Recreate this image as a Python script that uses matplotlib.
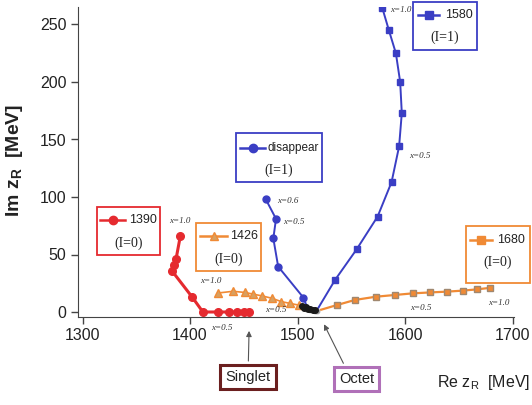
import matplotlib
matplotlib.use("Agg")
import matplotlib.pyplot as plt
from matplotlib.patches import Rectangle
from matplotlib.lines import Line2D

# pole trajectories, (Re z_R, Im z_R) in MeV
re_1390 = [1391, 1387, 1385, 1383, 1402, 1412, 1426, 1436, 1444, 1450, 1455]
im_1390 = [66, 46, 41, 36, 13, 0, 0, 0, 0, 0, 0]

re_1426 = [1426, 1440, 1451, 1459, 1467, 1476, 1485, 1493, 1501, 1508]
im_1426 = [16.5, 18, 17, 15.5, 14, 12, 9, 7.5, 6, 3.5]

re_dis = [1470.5, 1480, 1477.5, 1482, 1505.5, 1509]
im_dis = [98, 81, 64, 39.5, 12.5, 4]

re_1580 = [1579, 1585, 1591.5, 1595.5, 1597, 1594.5, 1587.5, 1574.5, 1555, 1535, 1519]
im_1580 = [264, 245, 225, 200, 173, 144, 113, 83, 54.5, 28, 3]

re_1680 = [1522, 1536.5, 1553.5, 1573, 1590.5, 1607, 1623, 1639, 1654, 1667, 1679]
im_1680 = [2, 6, 10.5, 13.3, 14.8, 16.2, 17, 17.7, 18.6, 19.7, 21]

# degenerate (SU(3) limit) region
re_cl = [1504, 1506, 1508, 1510, 1512, 1514, 1516]
im_cl = [5, 3.5, 4.5, 2.5, 3, 1.5, 2]

RED = "#e52a2f"
ORANGE = "#f08a35"
BLUE = "#3a3ec4"

W, H = 532, 405
fig = plt.figure(figsize=(W / 100, H / 100), dpi=100)
ax = fig.add_axes([78.2 / W, 1 - 316.6 / H, 435.4 / W, 309.35 / H])

ax.plot(re_1390, im_1390, "-o", color=RED, lw=2.2, ms=5.5, mec=RED)
ax.plot(re_1426, im_1426, "-^", color=ORANGE, lw=1.2, ms=5.5, mfc="#d8a060",
        mec=ORANGE, markevery=list(range(len(re_1426) - 1)))
ax.plot(re_dis, im_dis, "-o", color=BLUE, lw=1.4, ms=5, markevery=list(range(len(re_dis) - 1)))
ax.plot(re_1580, im_1580, "-s", color=BLUE, lw=1.4, ms=4.5, markevery=list(range(len(re_1580) - 1)))
ax.plot(re_1680, im_1680, "-s", color=ORANGE, lw=1.6, ms=5, mfc=ORANGE, mec="#a08870",
        markevery=list(range(1, len(re_1680))))
ax.scatter(re_cl, im_cl, s=16, color="#1a1a1a", zorder=5)
ax.scatter([r + 2 for r in re_cl], [i - 1 for i in im_cl], s=10, color="#aaaaaa", zorder=4)

ax.set_xlim(1296, 1701)
ax.set_ylim(-4, 265)
ax.set_xticks([1300, 1400, 1500, 1600, 1700])
ax.set_yticks([0, 50, 100, 150, 200, 250])
for s in ("top", "right"):
    ax.spines[s].set_visible(False)
for s in ("left", "bottom"):
    ax.spines[s].set_color("#444444")
ax.tick_params(direction="out", length=5, width=1, color="#444444",
               labelsize=11.5, labelcolor="#222222")
for lab in ax.get_xticklabels() + ax.get_yticklabels():
    lab.set_family("Liberation Sans")

# x = ... labels along the trajectories
small = dict(fontsize=6.5, family="Liberation Serif", style="italic", color="#333333",
             va="center", clip_on=False)
ax.text(1381, 79, "x=1.0", **small)
ax.text(1409, 27, "x=1.0", **small)
ax.text(1420, -14, "x=0.5", **small)
ax.text(1470, 1.7, "x=0.5", **small)
ax.text(1481, 96.5, "x=0.6", **small)
ax.text(1486.5, 78, "x=0.5", **small)
ax.text(1586, 263, "x=1.0", **small)
ax.text(1604, 135.5, "x=0.5", **small)
ax.text(1605, 3.5, "x=0.5", **small)
ax.text(1677, 7.8, "x=1.0", **small)


def fx(x):
    return x / W


def fy(y):
    return 1 - y / H


def legend_box(x0, y0, x1, y1, color, marker, mfc, label, iso, hx0, hx1, hy, lx, iy, lsize=9):
    fig.add_artist(Rectangle((fx(x0), fy(y1)), fx(x1) - fx(x0), fy(y0) - fy(y1),
                             transform=fig.transFigure, fc="white", ec=color, lw=1.3, zorder=6))
    fig.add_artist(Line2D([fx(hx0), fx(hx1)], [fy(hy), fy(hy)], transform=fig.transFigure,
                          color=color, lw=1.8, zorder=7))
    fig.add_artist(Line2D([fx((hx0 + hx1) / 2)], [fy(hy)], transform=fig.transFigure,
                          marker=marker, ms=6, color=color, mfc=mfc, zorder=8))
    fig.text(fx(lx), fy(hy), label, fontsize=lsize, family="Liberation Sans",
             va="center", ha="left", color="#222222", zorder=8)
    fig.text(fx((x0 + x1) / 2), fy(iy), iso, fontsize=10, family="Liberation Serif",
             va="center", ha="center", color="#222222", zorder=8)


legend_box(97, 207, 160, 255, RED, "o", RED, "1390", "(I=0)", 100, 125, 220, 129, 243)
legend_box(196, 223, 261, 271, ORANGE, "^", "#d8a060", "1426", "(I=0)", 200, 227, 236, 230, 259)
legend_box(236, 133, 322, 182, BLUE, "o", BLUE, "disappear", "(I=1)", 240, 265, 148, 268, 170,
           lsize=8.5)
legend_box(413, 2, 477, 50, BLUE, "s", BLUE, "1580", "(I=1)", 418, 439, 15, 445, 37)
legend_box(466, 226, 530, 283, ORANGE, "s", ORANGE, "1680", "(I=0)", 470, 492, 240, 497, 262)

ax.annotate("Singlet", xy=(1455, -14), xycoords="data",
            xytext=(fx(248), fy(377)), textcoords="figure fraction",
            ha="center", va="center", fontsize=10.5, family="Liberation Sans", color="#222222",
            bbox=dict(boxstyle="square,pad=0.35", fc="white", ec="#6b1f1f", lw=2.2),
            arrowprops=dict(arrowstyle="-|>", color="#555555", lw=0.8, mutation_scale=8),
            annotation_clip=False)
ax.annotate("Octet", xy=(1523.5, -8.5), xycoords="data",
            xytext=(fx(356.5), fy(379)), textcoords="figure fraction",
            ha="center", va="center", fontsize=10.5, family="Liberation Sans", color="#222222",
            bbox=dict(boxstyle="square,pad=0.35", fc="white", ec="#b070b8", lw=2.2),
            arrowprops=dict(arrowstyle="-|>", color="#555555", lw=0.8, mutation_scale=8,
                            relpos=(0.25, 1.0)),
            annotation_clip=False)

fig.text(fx(15), fy(160), r"Im z$_\mathregular{R}$  [MeV]", rotation=90, fontsize=14,
         weight="bold", family="Liberation Sans", ha="center", va="center", color="#222222")
fig.text(fx(530), fy(382), r"Re z$_\mathregular{R}$  [MeV]", fontsize=11.5,
         family="Liberation Sans", ha="right", va="center", color="#222222")

fig.savefig("out.png", dpi=100)
